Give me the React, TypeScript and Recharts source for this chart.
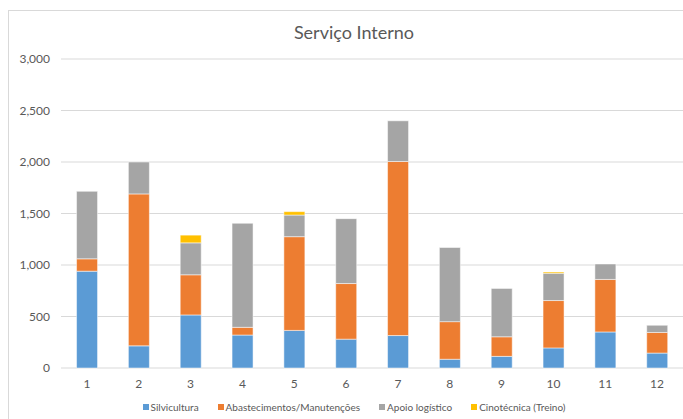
import React from "react";
import { BarChart, Bar, XAxis, YAxis, CartesianGrid } from "recharts";

const months = ["1", "2", "3", "4", "5", "6", "7", "8", "9", "10", "11", "12"];
const silvicultura = [940, 215, 515, 320, 365, 280, 315, 85, 113, 195, 350, 145];
const abastecimentos = [120, 1475, 390, 75, 910, 540, 1690, 365, 190, 460, 510, 200];
const apoio = [655, 310, 310, 1010, 210, 630, 395, 720, 470, 265, 150, 70];
const cinotecnica = [0, 0, 75, 0, 33, 0, 0, 0, 0, 12, 0, 0];
const yTicks = [0, 500, 1000, 1500, 2000, 2500, 3000];

const series = [
  { key: "silv", name: "Silvicultura", color: "#5B9BD5" },
  { key: "abast", name: "Abastecimentos/Manutenções", color: "#ED7D31" },
  { key: "apoio", name: "Apoio logístico", color: "#A5A5A5" },
  { key: "cino", name: "Cinotécnica (Treino)", color: "#FFC000" },
];

const data = months.map((m, i) => ({
  name: m,
  silv: silvicultura[i],
  abast: abastecimentos[i],
  apoio: apoio[i],
  cino: cinotecnica[i],
}));

const font = "Lato, 'Open Sans', sans-serif";

export default function App() {
  return (
    <div
      style={{
        position: "fixed",
        left: 0,
        top: 0,
        width: 683,
        height: 419,
        background: "#fff",
        overflow: "hidden",
        fontFamily: font,
      }}
    >
      <div
        style={{
          position: "absolute",
          left: 8,
          top: 10,
          width: 700,
          height: 430,
          border: "1px solid #D9D9D9",
        }}
      />
      <div
        style={{
          position: "absolute",
          left: 0,
          top: 21,
          width: 708,
          textAlign: "center",
          fontSize: 18,
          color: "#595959",
        }}
      >
        Serviço Interno
      </div>
      <div style={{ position: "absolute", left: 0, top: 0 }}>
        <BarChart
          width={683}
          height={419}
          data={data}
          margin={{ top: 59, right: 0, bottom: 21, left: 0 }}
          barCategoryGap="30%"
        >
          <CartesianGrid stroke="#D9D9D9" strokeWidth={1} vertical={false} />
          <XAxis
            dataKey="name"
            height={30}
            axisLine={false}
            tickLine={false}
            tickMargin={5}
            tick={{ fill: "#595959", fontSize: 12, fontFamily: font }}
          />
          <YAxis
            width={61}
            domain={[0, 3000]}
            ticks={yTicks}
            axisLine={false}
            tickLine={false}
            tickSize={0}
            tickMargin={11}
            tickFormatter={(v: number) => v.toLocaleString("en-US")}
            tick={{ fill: "#595959", fontSize: 12, fontFamily: font }}
          />
          {series.map((s) => (
            <Bar
              key={s.key}
              dataKey={s.key}
              name={s.name}
              stackId="a"
              fill={s.color}
              stroke="#fff"
              strokeWidth={0.5}
              isAnimationActive={false}
            />
          ))}
        </BarChart>
      </div>
      <div
        style={{
          position: "absolute",
          left: 0,
          top: 401,
          width: 708,
          display: "flex",
          justifyContent: "center",
          gap: 19,
          fontSize: 10,
          color: "#595959",
        }}
      >
        {series.map((s) => (
          <div key={s.key} style={{ display: "flex", alignItems: "center" }}>
            <span style={{ width: 6, height: 6, background: s.color, marginRight: 2, display: "inline-block" }} />
            <span>{s.name}</span>
          </div>
        ))}
      </div>
    </div>
  );
}
